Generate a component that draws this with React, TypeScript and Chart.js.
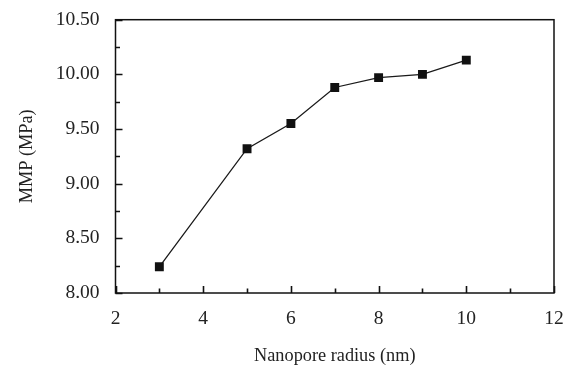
import React, { useEffect, useRef } from "react";
import { Chart, registerables } from "chart.js";

Chart.register(...registerables);

const radius = [3, 5, 6, 7, 8, 9, 10];
const mmp = [8.24, 9.32, 9.55, 9.88, 9.97, 10.0, 10.13];
const xTicks = [2, 4, 6, 8, 10, 12];
const yTicks = [8.0, 8.5, 9.0, 9.5, 10.0, 10.5];
const xTitle = "Nanopore radius (nm)";
const yTitle = "MMP (MPa)";

const FONT = "'Liberation Serif', 'DejaVu Serif', serif";

const framePlugin = {
  id: "frameTicks",
  afterDraw(chart: any) {
    const { ctx, chartArea } = chart;
    const xs = chart.scales.x;
    const ys = chart.scales.y;
    ctx.save();
    ctx.strokeStyle = "#111";
    ctx.lineWidth = 1.5;
    ctx.strokeRect(chartArea.left, chartArea.top, chartArea.right - chartArea.left, chartArea.bottom - chartArea.top);
    ctx.lineWidth = 1.6;
    const major = 7;
    const minor = 4.5;
    ctx.beginPath();
    for (let i = 0; i < xTicks.length; i++) {
      const px = Math.round(xs.getPixelForValue(xTicks[i])) + 0.5;
      ctx.moveTo(px, chartArea.bottom);
      ctx.lineTo(px, chartArea.bottom - major);
      if (i < xTicks.length - 1) {
        const mx = Math.round(xs.getPixelForValue((xTicks[i] + xTicks[i + 1]) / 2)) + 0.5;
        ctx.moveTo(mx, chartArea.bottom);
        ctx.lineTo(mx, chartArea.bottom - minor);
      }
    }
    for (let i = 0; i < yTicks.length; i++) {
      const py = Math.round(ys.getPixelForValue(yTicks[i])) + 0.5;
      ctx.moveTo(chartArea.left, py);
      ctx.lineTo(chartArea.left + major, py);
      if (i < yTicks.length - 1) {
        const my = Math.round(ys.getPixelForValue((yTicks[i] + yTicks[i + 1]) / 2)) + 0.5;
        ctx.moveTo(chartArea.left, my);
        ctx.lineTo(chartArea.left + minor, my);
      }
    }
    ctx.stroke();
    ctx.restore();
  },
};

export default function App() {
  const ref = useRef<HTMLCanvasElement | null>(null);
  useEffect(() => {
    if (!ref.current) return;
    const chart = new Chart(ref.current, {
      type: "line",
      data: {
        datasets: [
          {
            data: radius.map((r, i) => ({ x: r, y: mmp[i] })),
            borderColor: "#1a1a1a",
            borderWidth: 1.3,
            backgroundColor: "#111",
            pointStyle: "rect",
            pointRadius: 6.3,
            pointBorderWidth: 0,
            pointBackgroundColor: "#111",
            tension: 0,
          },
        ],
      },
      options: {
        animation: false,
        responsive: false,
        maintainAspectRatio: false,
        layout: { padding: { top: 16, right: 18, left: 0, bottom: 0 } },
        plugins: { legend: { display: false }, tooltip: { enabled: false } },
        scales: {
          x: {
            type: "linear",
            min: 2,
            max: 12,
            grid: { display: false },
            border: { display: false },
            afterBuildTicks: (s: any) => {
              s.ticks = xTicks.map((v) => ({ value: v }));
            },
            afterFit: (s: any) => {
              s.height = 77;
            },
            ticks: {
              color: "#222",
              padding: 6,
              maxRotation: 0,
              autoSkip: false,
              font: { family: FONT, size: 19.5 },
              callback: (v: any) => String(v),
            },
            title: {
              display: true,
              text: xTitle,
              color: "#222",
              font: { family: FONT, size: 18.3 },
              padding: { top: 0, bottom: 3 },
            },
          },
          y: {
            type: "linear",
            min: 8,
            max: 10.5,
            grid: { display: false },
            border: { display: false },
            afterBuildTicks: (s: any) => {
              s.ticks = yTicks.map((v) => ({ value: v }));
            },
            afterFit: (s: any) => {
              s.width = 115.5;
            },
            ticks: {
              color: "#222",
              padding: 8,
              autoSkip: false,
              font: { family: FONT, size: 19.5 },
              callback: (v: any) => Number(v).toFixed(2),
            },
            title: {
              display: true,
              text: yTitle,
              color: "#222",
              font: { family: FONT, size: 18.3 },
              padding: { top: 16, bottom: 0 },
            },
          },
        },
      },
      plugins: [framePlugin],
    });
    return () => chart.destroy();
  }, []);
  return (
    <div style={{ position: "absolute", left: 0, top: 0, width: 572, height: 370, background: "#fff" }}>
      <canvas ref={ref} width={572} height={370} style={{ display: "block", width: 572, height: 370 }} />
    </div>
  );
}
